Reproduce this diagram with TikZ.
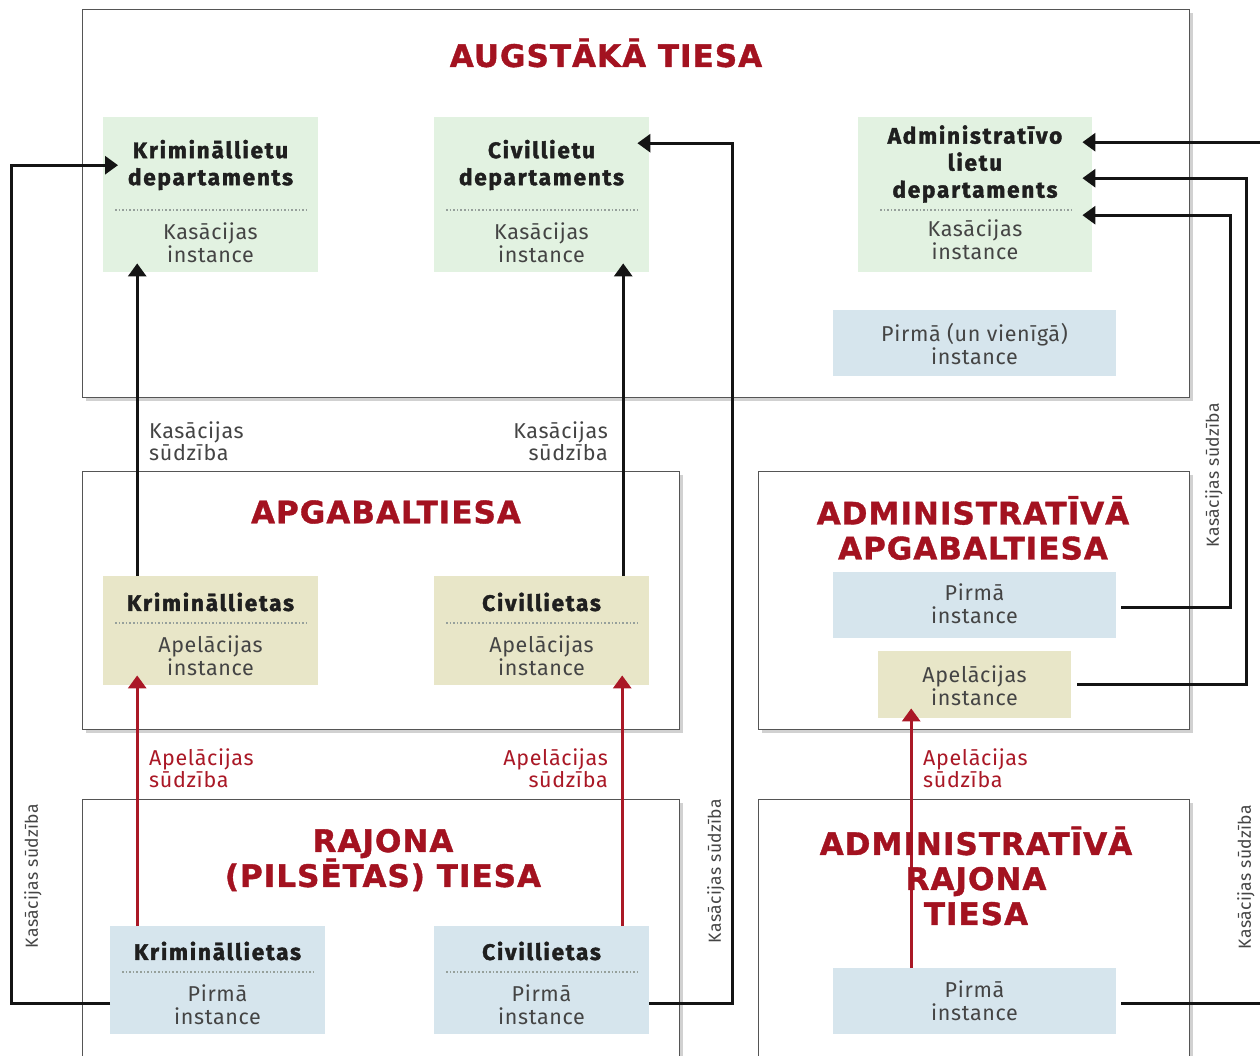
\documentclass[tikz,border=0pt]{standalone}
\usepackage{fontspec}
\setmainfont{Fira Sans}
\newfontfamily\ttlfnt[LetterSpace=3.3, BoldFeatures={FakeBold=1.2}]{DejaVu Sans}
\newfontfamily\hdfnt[LetterSpace=8, BoldFeatures={FakeBold=1.8}]{Fira Sans}
\usetikzlibrary{arrows.meta,shadows}
\definecolor{tred}{RGB}{163,18,32}
\definecolor{ared}{RGB}{170,24,38}
\definecolor{gfill}{RGB}{226,242,225}
\definecolor{bfill}{RGB}{214,229,237}
\definecolor{yfill}{RGB}{232,230,200}
\definecolor{bord}{RGB}{85,85,85}
\definecolor{txt}{RGB}{68,68,68}
\definecolor{dots}{RGB}{150,160,155}
\tikzset{
  court/.style={draw=bord, line width=1.3pt, fill=white, anchor=north west, inner sep=0pt,
    drop shadow={shadow xshift=3pt, shadow yshift=-3pt, opacity=0.18, fill=black}},
  inbox/.style={draw=none, anchor=north west, inner sep=0pt},
  gbox/.style={inbox, fill=gfill},
  bbox/.style={inbox, fill=bfill},
  ybox/.style={inbox, fill=yfill},
  ttl/.style={text=tred, align=center, inner sep=0pt,
    font=\fontsize{31}{35}\selectfont\ttlfnt\bfseries},
  hd/.style={text=black!88, align=center, inner sep=0pt,
    font=\fontsize{22.5}{27}\selectfont\hdfnt\bfseries},
  sub/.style={text=txt, align=center, inner sep=0pt,
    font=\fontsize{21.5}{23}\selectfont\addfontfeatures{LetterSpace=3}},
  lbl/.style={text=txt, inner sep=0pt,
    font=\fontsize{21.5}{22}\selectfont\addfontfeatures{LetterSpace=3}},
  rlbl/.style={lbl, text=ared},
  vlbl/.style={text=txt, inner sep=0pt, rotate=90,
    font=\fontsize{17.5}{20}\selectfont\addfontfeatures{LetterSpace=2}},
  sep/.style={dots, line width=1.6pt, dotted},
  tip/.style={-{Triangle[length=13pt,width=18pt]}},
  conn/.style={draw=black!92, line width=3pt, tip},
  rconn/.style={draw=ared, line width=3pt, tip}
}
\begin{document}
\begin{tikzpicture}[x=1pt,y=-1pt]
\clip (0,0) rectangle (1260,1055);
\fill[white] (0,0) rectangle (1260,1055);

% ---------- court boxes ----------
\node[court, minimum width=1107pt, minimum height=388pt] (sup) at (82,9) {};
\node[court, minimum width=597pt, minimum height=258pt] (apg) at (82,471) {};
\node[court, minimum width=431pt, minimum height=258pt] (aapg) at (758,471) {};
\node[court, minimum width=597pt, minimum height=280pt] (raj) at (82,799) {};
\node[court, minimum width=431pt, minimum height=280pt] (araj) at (758,799) {};

% ---------- inner boxes ----------
\node[gbox, minimum width=215pt, minimum height=155pt] (kd) at (103,117) {};
\node[gbox, minimum width=215pt, minimum height=155pt] (cd) at (434,117) {};
\node[gbox, minimum width=234pt, minimum height=155pt] (ad) at (858,117) {};
\node[bbox, minimum width=283pt, minimum height=66pt] (avi) at (833,310) {};

\node[ybox, minimum width=215pt, minimum height=109pt] (kA) at (103,576) {};
\node[ybox, minimum width=215pt, minimum height=109pt] (cA) at (434,576) {};
\node[bbox, minimum width=283pt, minimum height=66pt] (ap1) at (833,572) {};
\node[ybox, minimum width=193pt, minimum height=67pt] (aa) at (878,651) {};

\node[bbox, minimum width=215pt, minimum height=108pt] (kr) at (110,926) {};
\node[bbox, minimum width=215pt, minimum height=108pt] (cr) at (434,926) {};
\node[bbox, minimum width=283pt, minimum height=66pt] (ar) at (833,968) {};

% ---------- dotted separators ----------
\draw[sep] (115,210) -- (308,210);
\draw[sep] (446,210) -- (639,210);
\draw[sep] (880,210) -- (1074,210);
\draw[sep] (115,623) -- (308,623);
\draw[sep] (446,623) -- (639,623);
\draw[sep] (122,972) -- (315,972);
\draw[sep] (446,972) -- (639,972);

% ---------- red appeal arrows (behind titles) ----------
\draw[rconn] ([xshift=-80.5pt]kr.north) -- ([xshift=-73.5pt,yshift=10pt]kA.south);
\draw[rconn] ([xshift=80.5pt]cr.north) -- ([xshift=80.5pt,yshift=10pt]cA.south);
\draw[rconn] ([xshift=-63.5pt]ar.north) -- ([xshift=-63.5pt,yshift=10pt]aa.south);

% ---------- black cassation arrows ----------
\draw[conn] ([xshift=-73.5pt]kA.north) -- ([xshift=-73.5pt,yshift=9pt]kd.south);
\draw[conn] ([xshift=81.5pt]cA.north) -- ([xshift=81.5pt,yshift=9pt]cd.south);
\draw[conn] ([yshift=-23pt]kr.west) -- ++(-99,0) |- ([yshift=29.5pt,xshift=15pt]kd.west);
\draw[conn] ([yshift=-23pt]cr.east) -- ++(83,0) |- ([yshift=51.5pt,xshift=-12pt]cd.east);
\draw[conn] ([xshift=5pt,yshift=-2pt]ar.east) -- ++(145,0) |- ([yshift=52.5pt,xshift=-10pt]ad.east);
\draw[conn] ([xshift=5pt,yshift=-2pt]ap1.east) -- ++(109,0) |- ([yshift=-20.5pt,xshift=-10pt]ad.east);
\draw[conn] ([xshift=6pt]aa.east) -- ++(169,0) |- ([yshift=16.5pt,xshift=-10pt]ad.east);

% ---------- titles ----------
\node[ttl] (tsup) at (606,53) {AUGSTĀKĀ TIESA};
\node[ttl] (tapg) at (386,512) {APGABALTIESA};
\node[ttl] (taapg) at (973,528) {ADMINISTRATĪVĀ\\APGABALTIESA};
\node[ttl] (traj) at (383,860) {RAJONA\\(PILSĒTAS) TIESA};
\node[ttl] (taraj) at (976,876) {ADMINISTRATĪVĀ\\RAJONA\\TIESA};

% ---------- texts in inner boxes ----------
\node[hd] (kdh) at (210.5,165) {Krimināllietu\\departaments};
\node[sub] (kds) at (210.5,243) {Kasācijas\\instance};
\node[hd] (cdh) at (541.5,165) {Civillietu\\departaments};
\node[sub] (cds) at (541.5,243) {Kasācijas\\instance};
\node[hd] (adh) at (975,164) {Administratīvo\\lietu\\departaments};
\node[sub] (ads) at (975,240) {Kasācijas\\instance};
\node[sub] (avit) at (974.5,344) {Pirmā (un vienīgā)\\instance};

\node[hd] (kAh) at (210.5,602) {Krimināllietas};
\node[sub] (kAs) at (210.5,656) {Apelācijas\\instance};
\node[hd] (cAh) at (541.5,602) {Civillietas};
\node[sub] (cAs) at (541.5,656) {Apelācijas\\instance};
\node[sub] (ap1t) at (974.5,604) {Pirmā\\instance};
\node[sub] (aat) at (974.5,686) {Apelācijas\\instance};

\node[hd] (krh) at (217.5,951) {Krimināllietas};
\node[sub] (krs) at (217.5,1005) {Pirmā\\instance};
\node[hd] (crh) at (541.5,951) {Civillietas};
\node[sub] (crs) at (541.5,1005) {Pirmā\\instance};
\node[sub] (art) at (974.5,1001) {Pirmā\\instance};

% ---------- connector labels ----------
\node[lbl, anchor=west, align=left] (l1) at (149,441) {Kasācijas\\sūdzība};
\node[lbl, anchor=east, align=right] (l2) at (608,441) {Kasācijas\\sūdzība};
\node[rlbl, anchor=west, align=left] (l3) at (149,768) {Apelācijas\\sūdzība};
\node[rlbl, anchor=east, align=right] (l4) at (608,768) {Apelācijas\\sūdzība};
\node[rlbl, anchor=west, align=left] (l5) at (923,768) {Apelācijas\\sūdzība};
\node[vlbl] (l6) at (33,876) {Kasācijas sūdzība};
\node[vlbl] (l7) at (716,871) {Kasācijas sūdzība};
\node[vlbl] (l8) at (1214,475) {Kasācijas sūdzība};
\node[vlbl] (l9) at (1246,877) {Kasācijas sūdzība};
\end{tikzpicture}
\end{document}
